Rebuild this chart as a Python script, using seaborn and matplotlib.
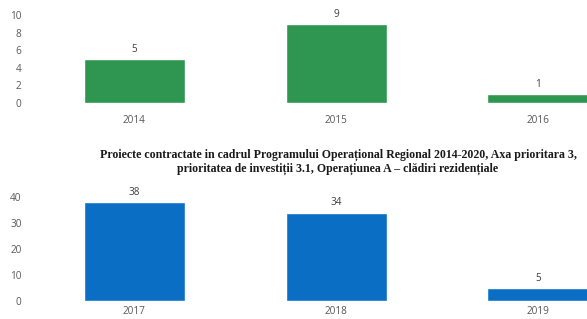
import numpy as np
import pandas as pd
import seaborn as sns
import matplotlib.pyplot as plt

# data
years_top = ["2014", "2015", "2016"]
counts_top = [5, 9, 1]
years_bottom = ["2017", "2018", "2019"]
counts_bottom = [38, 34, 5]

title = ("Proiecte contractate in cadrul Programului Operațional Regional 2014-2020, Axa prioritara 3,\n"
         "prioritatea de investiții 3.1, Operațiunea A – clădiri rezidențiale")

sns.set_style("white")
plt.rcParams['font.family'] = ['Open Sans', 'DejaVu Sans']

W, H = 587, 319
fig = plt.figure(figsize=(W / 100, H / 100), dpi=100)

# x range chosen so the last bar runs off the page edge like the scan
x0, x1 = (30 - 134) / 202, (W - 134) / 202


def draw(ax, years, counts, color, ymax, yticks, xpad):
    df = pd.DataFrame({"year": years, "n": counts})
    sns.barplot(data=df, x="year", y="n", color=color, width=0.5,
                saturation=1, ax=ax)
    ax.set_xlim(x0, x1)
    ax.set_ylim(0, ymax)
    ax.set_yticks(yticks)
    ax.set_xlabel("")
    ax.set_ylabel("")
    sns.despine(ax=ax, left=True, bottom=True)
    ax.tick_params(length=0, labelsize=7.2, labelcolor="#595959")
    ax.tick_params(axis="y", pad=6)
    ax.tick_params(axis="x", pad=xpad)
    for i, v in enumerate(counts):
        ax.annotate(str(v), (i, v), xytext=(0, 3), textcoords="offset points",
                    ha="center", va="bottom", fontsize=7.2, color="#404040")
    ax.patch.set_alpha(0)


ax1 = fig.add_axes([30 / W, 1 - 103 / H, 1 - 30 / W, (103 - 15) / H])
draw(ax1, years_top, counts_top, "#2e9650", 10, [0, 2, 4, 6, 8, 10], 8.5)

ax2 = fig.add_axes([30 / W, 1 - 301 / H, 1 - 30 / W, (301 - 197) / H])
draw(ax2, years_bottom, counts_bottom, "#0a6fc4", 40, [0, 10, 20, 30, 40], 3.5)

fig.text(338 / W, 1 - 162 / H, title, ha="center", va="center",
         family=["Liberation Serif", "DejaVu Serif"], fontweight="bold",
         fontsize=8.6, color="#1a1a1a", linespacing=1.2)

fig.savefig("out.png", dpi=100, facecolor="white")
